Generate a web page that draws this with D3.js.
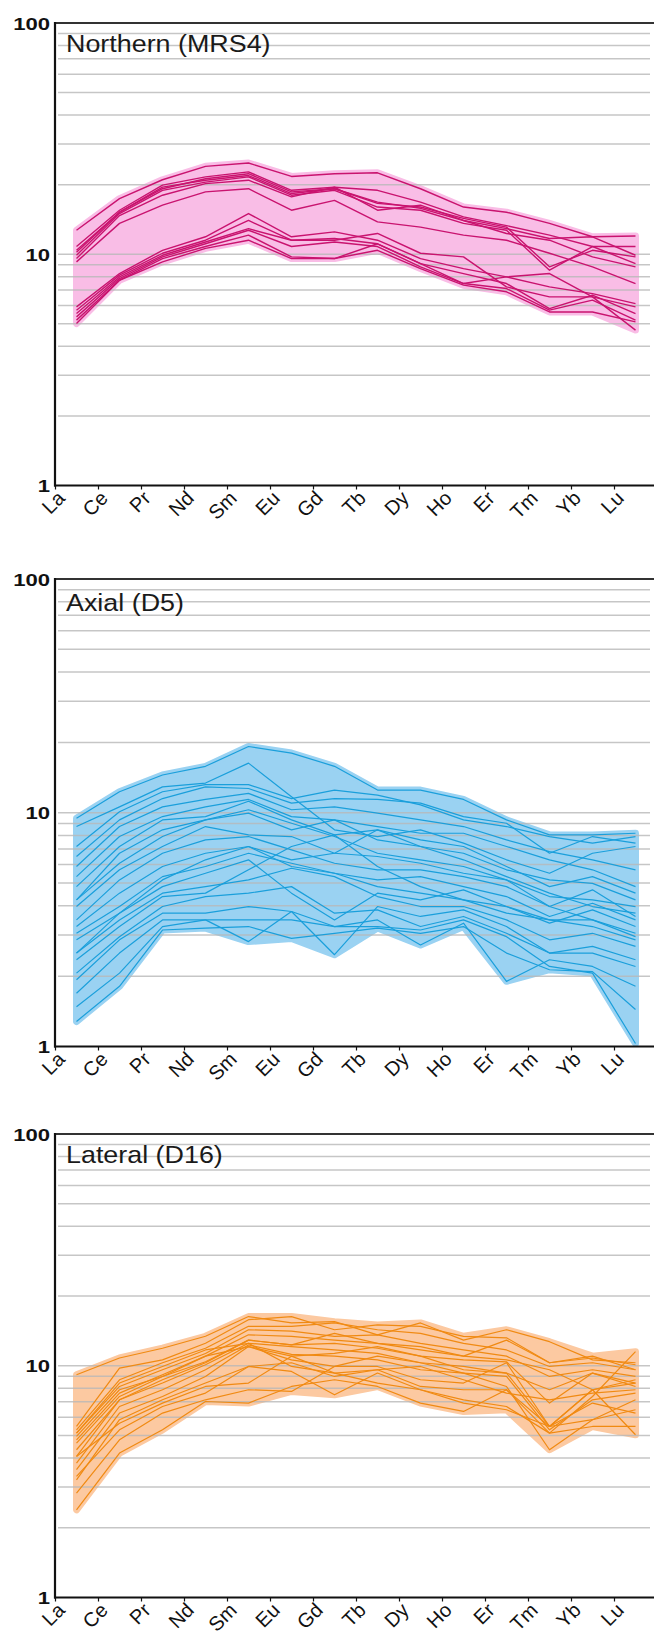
<!DOCTYPE html>
<html>
<head>
<meta charset="utf-8">
<script src="https://cdn.jsdelivr.net/npm/d3@7"></script>
<style>
  html, body { margin: 0; padding: 0; background: #fff; }
  svg { display: block; font-family: "Liberation Sans", Arial, Helvetica, sans-serif; }
</style>
</head>
<body>
<div id="chart"></div>
<script>
  // REE elements on the x axis
  const ELEMENTS = ['La', 'Ce', 'Pr', 'Nd', 'Sm', 'Eu', 'Gd', 'Tb', 'Dy', 'Ho', 'Er', 'Tm', 'Yb', 'Lu'];
  const Y_TICKS = [1, 10, 100];

  // chondrite-normalised values, one row per sample
  const NORTHERN = [
    [12.7, 17.4, 21.0, 24.0, 24.8, 21.7, 22.3, 22.5, 19.2, 16.0, 15.2, 13.6, 11.9, 12.0],
    [10.8, 15.5, 19.9, 21.6, 22.7, 18.9, 19.5, 18.9, 16.8, 14.5, 13.3, 12.1, 10.8, 10.8],
    [10.4, 15.2, 19.5, 20.9, 21.9, 18.3, 19.2, 16.6, 16.0, 14.3, 13.1, 8.82, 10.4, 9.74],
    [9.9, 15.0, 18.9, 20.5, 21.6, 18.0, 18.9, 16.0, 15.5, 13.6, 12.7, 8.53, 10.8, 9.11],
    [9.58, 14.7, 18.0, 20.2, 20.9, 17.7, 19.5, 15.5, 16.3, 14.0, 12.3, 11.5, 9.74, 8.82],
    [9.27, 13.6, 16.3, 18.6, 19.2, 15.5, 17.1, 13.8, 13.1, 12.1, 11.5, 10.1, 8.82, 7.47],
    [10.2, 15.2, 19.2, 21.2, 22.3, 18.6, 19.2, 16.8, 15.8, 14.0, 12.9, 11.7, 11.9, 9.9],
    [5.92, 8.25, 10.4, 11.9, 15.0, 11.9, 12.5, 11.5, 9.58, 8.67, 7.98, 7.23, 6.76, 6.12],
    [5.73, 8.12, 10.1, 11.5, 14.0, 11.5, 11.5, 12.3, 10.1, 9.74, 7.23, 6.54, 6.54, 5.92],
    [5.54, 7.98, 9.9, 11.3, 12.9, 11.5, 11.7, 11.1, 9.11, 8.25, 7.47, 5.82, 6.65, 5.54],
    [5.36, 7.85, 9.74, 11.1, 12.7, 10.8, 11.3, 10.8, 8.82, 7.47, 7.11, 5.73, 6.33, 5.19],
    [5.19, 7.72, 9.58, 10.8, 12.1, 9.74, 9.58, 10.4, 8.67, 7.35, 6.88, 5.63, 5.63, 5.10],
    [5.02, 7.72, 9.27, 10.6, 11.5, 9.58, 9.58, 11.1, 9.11, 7.47, 7.98, 8.25, 6.54, 4.70],
  ];

  const AXIAL = [
    [9.48, 12.3, 14.5, 15.8, 19.2, 18.0, 15.8, 12.5, 12.5, 11.4, 9.32, 8.04, 8.04, 8.17],
    [8.73, 10.6, 12.9, 13.4, 16.3, 11.7, 8.45, 7.91, 8.45, 7.41, 6.29, 5.51, 6.71, 7.17],
    [7.17, 10.1, 12.3, 13.2, 13.2, 11.5, 12.5, 11.9, 10.8, 9.32, 8.73, 7.91, 7.41, 7.91],
    [6.50, 9.32, 11.5, 12.9, 12.7, 11.0, 11.5, 11.4, 11.0, 9.63, 9.02, 6.71, 7.91, 7.41],
    [5.89, 8.73, 10.6, 11.4, 12.1, 10.3, 10.6, 9.96, 9.32, 8.73, 7.65, 6.82, 6.29, 5.70],
    [5.33, 7.91, 9.63, 10.6, 11.4, 9.63, 9.32, 8.73, 8.17, 8.17, 7.17, 6.29, 5.70, 4.83],
    [4.83, 7.17, 9.32, 9.63, 11.2, 9.32, 8.04, 8.45, 7.65, 7.17, 5.89, 4.83, 5.33, 4.53],
    [4.24, 6.08, 7.91, 9.32, 9.96, 8.45, 9.32, 7.65, 7.17, 6.71, 5.70, 5.16, 4.99, 4.24],
    [3.97, 5.70, 7.17, 8.73, 8.04, 7.91, 6.71, 6.50, 6.08, 5.51, 5.16, 4.38, 4.24, 3.97],
    [3.48, 5.16, 6.71, 7.65, 7.91, 6.94, 6.08, 5.70, 5.70, 5.33, 4.83, 3.97, 4.68, 3.60],
    [3.26, 4.53, 5.89, 6.71, 7.17, 5.89, 5.51, 5.16, 5.33, 4.83, 4.38, 3.60, 4.10, 3.48],
    [3.05, 3.97, 5.33, 5.89, 6.71, 6.08, 5.51, 4.83, 4.53, 4.24, 3.97, 3.37, 3.84, 3.26],
    [2.86, 3.72, 4.83, 5.51, 6.29, 4.53, 3.48, 4.53, 4.24, 4.68, 3.97, 3.48, 3.48, 3.05],
    [2.51, 3.48, 4.53, 4.83, 5.16, 5.79, 5.33, 4.38, 3.97, 3.97, 3.48, 2.86, 3.05, 2.68],
    [2.35, 3.26, 4.38, 4.53, 5.70, 7.17, 8.04, 5.89, 4.83, 4.24, 3.72, 3.48, 3.26, 2.86],
    [2.06, 2.95, 3.97, 4.38, 4.53, 4.83, 3.72, 3.84, 3.26, 3.60, 3.05, 2.51, 2.51, 2.20],
    [1.93, 2.86, 3.72, 3.72, 3.97, 3.78, 2.47, 3.97, 3.60, 3.84, 3.26, 2.51, 2.68, 2.35],
    [1.69, 2.51, 3.48, 3.48, 2.81, 3.78, 3.26, 3.48, 2.72, 3.37, 1.90, 2.35, 2.20, 1.81],
    [1.28, 1.81, 3.15, 3.21, 3.26, 2.90, 3.05, 3.21, 3.05, 3.26, 2.51, 2.13, 2.09, 1.44],
    [1.48, 2.06, 3.26, 3.48, 3.48, 3.48, 3.26, 3.26, 3.15, 3.48, 2.95, 2.20, 2.06, 1.03],
    [4.24, 6.71, 8.45, 9.32, 10.3, 9.02, 7.91, 6.71, 6.29, 5.89, 5.16, 3.97, 3.48, 2.95],
    [2.51, 3.72, 5.16, 6.29, 7.17, 6.29, 6.71, 8.45, 7.17, 6.29, 5.33, 4.53, 3.97, 3.72],
  ];

  const LATERAL = [
    [9.14, 10.8, 11.9, 13.4, 16.3, 15.3, 15.5, 13.6, 15.3, 12.9, 14.3, 12.7, 10.6, 10.3],
    [5.47, 9.77, 10.6, 12.5, 15.8, 16.3, 14.3, 15.0, 14.8, 13.4, 13.2, 10.3, 10.8, 10.1],
    [5.29, 8.70, 10.3, 11.9, 14.8, 14.8, 15.3, 14.3, 13.8, 12.5, 11.7, 9.93, 10.3, 9.61],
    [5.12, 8.14, 9.61, 11.3, 14.3, 14.1, 13.4, 13.6, 12.5, 11.7, 11.0, 8.99, 9.61, 8.99],
    [4.79, 7.62, 9.14, 11.0, 13.6, 13.4, 12.9, 12.5, 11.7, 11.0, 10.6, 9.61, 7.88, 8.70],
    [4.64, 7.37, 8.99, 10.4, 12.9, 12.3, 12.5, 11.9, 11.0, 10.6, 10.4, 6.90, 9.30, 8.14],
    [4.06, 7.13, 8.42, 10.1, 12.5, 12.1, 11.7, 11.3, 10.3, 9.93, 9.30, 5.47, 7.88, 8.42],
    [3.80, 6.67, 7.88, 9.61, 12.3, 11.2, 11.0, 10.6, 9.61, 9.30, 8.99, 5.29, 7.13, 7.62],
    [3.56, 6.25, 7.37, 8.99, 12.1, 10.6, 9.93, 9.93, 8.70, 8.42, 10.3, 5.47, 5.85, 6.46],
    [3.22, 5.85, 7.13, 8.42, 9.93, 10.3, 8.99, 9.61, 8.14, 7.88, 7.88, 5.12, 5.47, 5.47],
    [2.82, 4.79, 6.25, 7.13, 7.88, 7.75, 9.93, 11.0, 10.3, 9.30, 8.14, 4.34, 5.85, 7.13],
    [2.39, 4.20, 5.29, 7.01, 6.90, 8.14, 8.70, 8.14, 6.90, 6.35, 7.88, 5.47, 7.88, 5.04],
    [3.33, 5.29, 6.67, 7.62, 9.93, 9.45, 7.49, 9.30, 7.88, 7.13, 6.67, 5.12, 7.37, 11.5],
    [4.34, 7.13, 8.70, 10.3, 12.9, 12.3, 13.8, 12.5, 12.1, 11.0, 12.9, 10.3, 11.0, 9.61],
    [5.12, 8.42, 9.93, 11.7, 12.5, 9.93, 9.30, 9.61, 9.93, 8.70, 7.62, 7.13, 7.62, 7.88],
    [4.06, 5.65, 6.90, 8.14, 8.42, 11.0, 9.30, 8.42, 7.88, 6.90, 6.46, 5.47, 6.90, 6.25],
    [4.96, 7.88, 8.99, 11.0, 12.1, 11.0, 11.3, 12.1, 11.0, 9.61, 9.30, 7.88, 9.30, 8.42],
  ];

  const PANELS = [
    { title: 'Northern (MRS4)', samples: NORTHERN, top: 23, bottom: 485.5, titleDrop: 29, line: '#c9136f', fill: '#f9bde6', lineWidth: 1.4 },
    { title: 'Axial (D5)', samples: AXIAL, top: 579, bottom: 1046.5, titleDrop: 32, line: '#1a9fdb', fill: '#9ad2f2', lineWidth: 1.2 },
    { title: 'Lateral (D16)', samples: LATERAL, top: 1134, bottom: 1597.5, titleDrop: 29, line: '#f08a12', fill: '#fcc9a1', lineWidth: 1.2 },
  ];

  const WIDTH = 654;
  const HEIGHT = 1635;
  const LEFT = 55;
  const STEP = 43;
  const FONT = '"Liberation Sans", Arial, Helvetica, sans-serif';

  const svg = d3.select('#chart').append('svg').attr('width', WIDTH).attr('height', HEIGHT);
  svg.append('rect').attr('width', WIDTH).attr('height', HEIGHT).attr('fill', '#fff');

  // data sits in the middle of each band, ticks and labels at the band start
  const x = d3.scaleBand().domain(ELEMENTS).range([LEFT, LEFT + ELEMENTS.length * STEP]);
  const xTick = d3.scalePoint().domain(ELEMENTS).range([LEFT, x(ELEMENTS[ELEMENTS.length - 1])]);
  const cx = (i) => x(ELEMENTS[i]) + x.bandwidth() / 2;

  PANELS.forEach(renderPanel);

  function renderPanel(panel) {
    const y = d3.scaleLog().domain([1, 100]).range([panel.bottom, panel.top]);
    const g = svg.append('g');

    // shaded envelope between the lowest and highest sample
    const envelope = ELEMENTS.map((_, i) => [
      d3.min(panel.samples, (row) => row[i]),
      d3.max(panel.samples, (row) => row[i]),
    ]);
    const area = d3.area()
      .x((_, i) => cx(i))
      .y0((d) => y(d[0]))
      .y1((d) => y(d[1]));
    g.append('path')
      .datum(envelope)
      .attr('d', area)
      .attr('fill', panel.fill)
      .attr('stroke', panel.fill)
      .attr('stroke-width', 7)
      .attr('stroke-linejoin', 'round');

    const gridValues = y.ticks().filter((v) => v > 1 && v < 100);
    g.selectAll('.grid')
      .data(gridValues)
      .enter()
      .append('line')
      .attr('class', 'grid')
      .attr('x1', LEFT + 3)
      .attr('x2', 650)
      .attr('y1', (v) => y(v))
      .attr('y2', (v) => y(v))
      .attr('stroke', '#b8b8b8')
      .attr('stroke-opacity', 0.8)
      .attr('stroke-width', 1.5);

    const line = d3.line()
      .x((_, i) => cx(i))
      .y((v) => y(v));
    g.selectAll('.sample')
      .data(panel.samples)
      .enter()
      .append('path')
      .attr('class', 'sample')
      .attr('d', line)
      .attr('fill', 'none')
      .attr('stroke', panel.line)
      .attr('stroke-width', panel.lineWidth)
      .attr('stroke-linejoin', 'round');

    // frame: top border, left axis, bottom axis
    g.append('line')
      .attr('x1', LEFT).attr('x2', WIDTH)
      .attr('y1', panel.top).attr('y2', panel.top)
      .attr('stroke', '#333').attr('stroke-width', 2);

    const xAxis = g.append('g')
      .attr('transform', `translate(0,${panel.bottom})`)
      .call(d3.axisBottom(xTick).tickSize(4).tickSizeOuter(0).tickFormat(''));
    xAxis.select('.domain').remove();
    xAxis.selectAll('.tick line').attr('stroke', '#111').attr('stroke-width', 1.2);

    // slanted element labels, ending just under each tick
    g.selectAll('.x-label')
      .data(ELEMENTS)
      .enter()
      .append('text')
      .attr('class', 'x-label')
      .attr('text-anchor', 'end')
      .attr('transform', (d) => `translate(${xTick(d) + 11},${panel.bottom + 14}) rotate(-45)`)
      .attr('fill', '#111')
      .style('font-size', '20px')
      .style('font-family', FONT)
      .text((d) => d);

    g.append('line')
      .attr('x1', LEFT - 1).attr('x2', WIDTH)
      .attr('y1', panel.bottom).attr('y2', panel.bottom)
      .attr('stroke', '#111').attr('stroke-width', 2.2);

    const yAxis = g.append('g')
      .attr('transform', `translate(${LEFT},0)`)
      .call(d3.axisLeft(y).tickValues(Y_TICKS).tickSize(0).tickPadding(0).tickFormat(d3.format('d')));
    yAxis.select('.domain').remove();
    yAxis.selectAll('.tick text')
      .attr('x', 0).attr('dy', '0.36em')
      .attr('text-anchor', 'end')
      .attr('transform', 'translate(-5,0) scale(1.3,1)')
      .attr('fill', '#111')
      .style('font-size', '17px')
      .style('font-weight', 'bold')
      .style('font-family', FONT);
    g.append('line')
      .attr('x1', LEFT).attr('x2', LEFT)
      .attr('y1', panel.top - 1).attr('y2', panel.bottom + 1)
      .attr('stroke', '#111').attr('stroke-width', 2.2);

    g.append('text')
      .attr('transform', `translate(${LEFT + 11},${panel.top + panel.titleDrop}) scale(1.12,1)`)
      .attr('fill', '#1a1a1a')
      .style('font-size', '24px')
      .style('font-family', FONT)
      .text(panel.title);
  }
</script>
</body>
</html>
